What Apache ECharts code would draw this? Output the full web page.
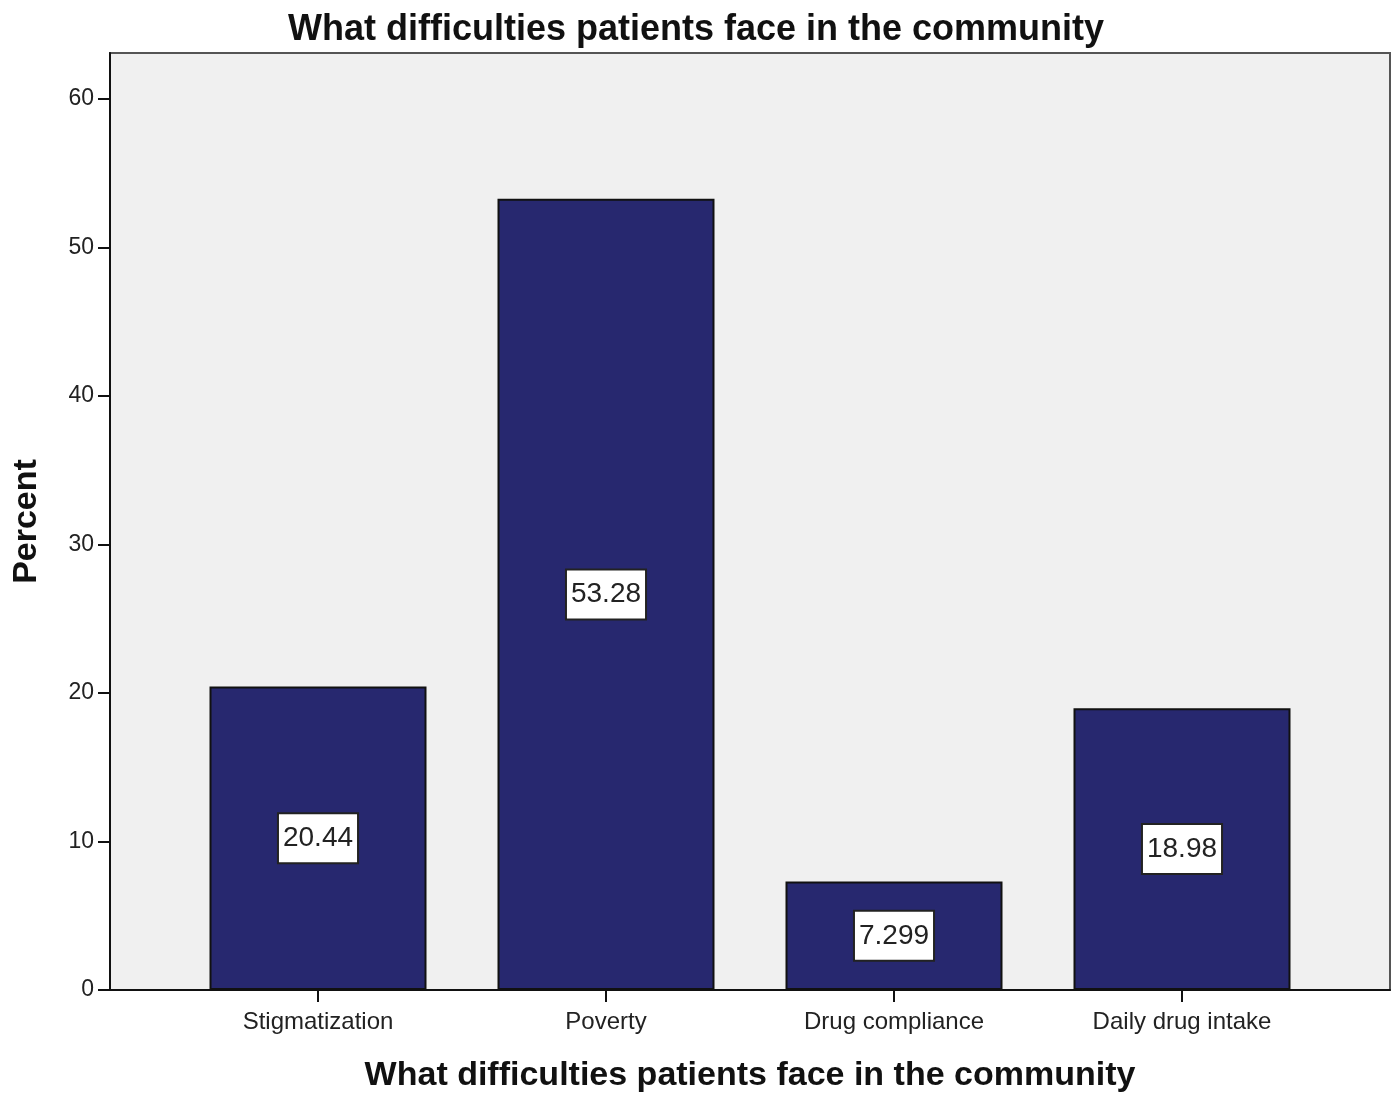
<!DOCTYPE html>
<html>
<head>
<meta charset="utf-8">
<title>What difficulties patients face in the community</title>
<script src="https://cdn.jsdelivr.net/npm/echarts@6/dist/echarts.min.js"></script>
<style>
  html, body { margin: 0; padding: 0; background: #ffffff; }
  #chart { width: 1393px; height: 1095px; }
</style>
</head>
<body>
<div id="chart"></div>
<script>
// Survey answers and their share of respondents (percent)
const categories = ['Stigmatization', 'Poverty', 'Drug compliance', 'Daily drug intake'];
const percents = [20.44, 53.28, 7.299, 18.98];
const percentLabels = ['20.44', '53.28', '7.299', '18.98'];

const chartTitle = 'What difficulties patients face in the community';
const xAxisTitle = 'What difficulties patients face in the community';
const yAxisTitle = 'Percent';

const yMin = 0;
const yMax = 60;
const yStep = 10;

const font = 'Liberation Sans, Arial, sans-serif';

const chart = echarts.init(document.getElementById('chart'), null, { renderer: 'canvas' });

chart.setOption({
  backgroundColor: '#ffffff',
  animation: false,
  title: {
    text: chartTitle,
    left: 691,
    top: 7,
    textAlign: 'center',
    textStyle: { fontFamily: font, fontSize: 36, fontWeight: 'bold', color: '#111' }
  },
  grid: [
    // outer frame: shaded plot area, axis lines and axis titles
    {
      left: 110, top: 53, width: 1280, height: 937,
      outerBoundsMode: 'none', containLabel: false,
      show: true, backgroundColor: '#f0f0f0',
      borderColor: '#555555', borderWidth: 2
    },
    // inner band holding the four bars and the percent scale (0–60)
    {
      left: 174, top: 99, width: 1152, height: 891,
      outerBoundsMode: 'none', containLabel: false
    }
  ],
  xAxis: [
    {
      gridIndex: 0, type: 'value', min: 0, max: 1,
      axisLine: { show: true, onZero: false, lineStyle: { color: '#111', width: 2 } },
      axisTick: { show: false }, axisLabel: { show: false }, splitLine: { show: false },
      name: xAxisTitle, nameLocation: 'middle', nameGap: 69,
      nameTextStyle: { fontFamily: font, fontSize: 34, fontWeight: 'bold', color: '#111' }
    },
    {
      gridIndex: 1, type: 'category', data: categories,
      axisLine: { show: false },
      axisTick: { show: true, alignWithLabel: true, length: 12, lineStyle: { color: '#111', width: 2 } },
      axisLabel: { margin: 20, fontFamily: font, fontSize: 24, color: '#222' }
    }
  ],
  yAxis: [
    {
      gridIndex: 0, type: 'value', min: 0, max: 1,
      axisLine: { show: true, lineStyle: { color: '#111', width: 2 } },
      axisTick: { show: false }, axisLabel: { show: false }, splitLine: { show: false },
      name: yAxisTitle, nameLocation: 'middle', nameGap: 66, nameRotate: 90,
      nameTextStyle: { fontFamily: font, fontSize: 34, fontWeight: 'bold', color: '#111' }
    },
    {
      gridIndex: 1, type: 'value', min: yMin, max: yMax, interval: yStep,
      offset: 64,
      axisLine: { show: false },
      axisTick: { show: true, length: 12, lineStyle: { color: '#111', width: 2 } },
      axisLabel: { margin: 16, fontFamily: font, fontSize: 23, color: '#222' },
      splitLine: { show: false }
    }
  ],
  series: [
    {
      type: 'bar',
      xAxisIndex: 1, yAxisIndex: 1,
      data: percents,
      barWidth: 217,
      itemStyle: { color: '#27286f', borderColor: '#111', borderWidth: 2 },
      label: {
        show: true,
        position: 'inside',
        formatter: p => percentLabels[p.dataIndex],
        fontFamily: font, fontSize: 28, color: '#222',
        backgroundColor: '#ffffff',
        borderColor: '#222', borderWidth: 2,
        padding: [11, 4, 9, 4]
      }
    }
  ]
});
</script>
</body>
</html>
